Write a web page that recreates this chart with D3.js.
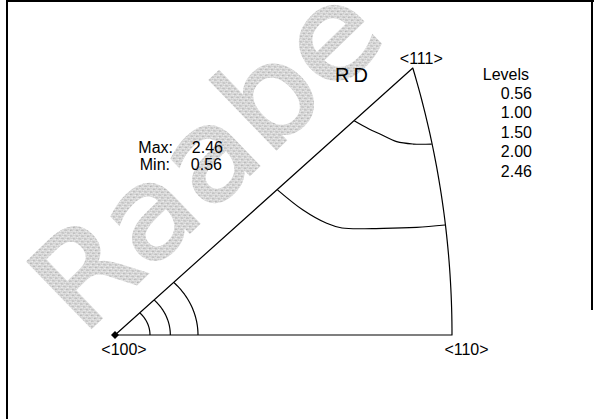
<!DOCTYPE html>
<html>
<head>
<meta charset="utf-8">
<script src="https://cdn.jsdelivr.net/npm/d3@7"></script>
<style>
  html, body { margin: 0; padding: 0; background: #fff; }
  svg { display: block; }
</style>
</head>
<body>
<svg id="chart" width="594" height="419"></svg>
<script>
// Inverse pole figure (stereographic standard triangle) with density contours.
// Coordinates are stereographic projection values: <100> at the origin,
// <110> at tan(22.5°), <111> at (tan(27.37°)·cos45°, tan(27.37°)·sin45°).
const poleLabels = ["<100>", "<110>", "<111>"];
const polePositions = [[0, 0], [0.41421, 0], [0.36603, 0.36603]];

const levelLabels = ["0.56", "1.00", "1.50", "2.00", "2.46"];
const maxValue = "2.46";
const minValue = "0.56";
const directionLabel = "RD";

// Closed contours around <100>, given as radius in projection units
const arcRadii100 = [0.043, 0.068, 0.102];

// Contours running from the <100>-<111> edge to the <110>-<111> arc
const contourUpper = [
  [0.2940, 0.2937], [0.3122, 0.2824], [0.3257, 0.2755], [0.3462, 0.2650],
  [0.3666, 0.2618], [0.3893, 0.2618]
];
const contourLower = [
  [0.1997, 0.1990], [0.2311, 0.1713], [0.2602, 0.1531], [0.2790, 0.1467],
  [0.3298, 0.1463], [0.3708, 0.1476], [0.4056, 0.1508]
];

const svg = d3.select("#chart");
const W = 594, H = 419;

// Scales: projection units -> pixels
const x = d3.scaleLinear().domain([0, 0.41421]).range([115, 452]);
const y = d3.scaleLinear().domain([0, 0.36603]).range([335, 68]);

// Stipple fill for the watermark
const defs = svg.append("defs");
const pat = defs.append("pattern")
  .attr("id", "stipple").attr("patternUnits", "userSpaceOnUse")
  .attr("width", 4).attr("height", 4);
pat.append("rect").attr("width", 4).attr("height", 4).attr("fill", "#d8d8d8");
[[0, 0, "#b8b8b8"], [2, 1, "#c6c6c6"], [1, 2, "#eeeeee"], [3, 3, "#b0b0b0"], [3, 1, "#ebebeb"], [0, 3, "#c8c8c8"], [2, 3, "#f0f0f0"]]
  .forEach(([px, py, c]) => pat.append("rect").attr("x", px).attr("y", py)
    .attr("width", 1).attr("height", 1).attr("fill", c));

svg.append("rect").attr("width", W).attr("height", H).attr("fill", "#fff");

// Watermark
svg.append("g")
  .attr("transform", "translate(236,188) rotate(-44)")
  .append("text")
  .attr("text-anchor", "middle")
  .attr("font-family", "DejaVu Sans")
  .attr("font-size", 126)
  .attr("textLength", 428)
  .attr("lengthAdjust", "spacingAndGlyphs")
  .attr("fill", "url(#stipple)")
  .attr("stroke", "url(#stipple)")
  .attr("stroke-width", 2.5)
  .text("Raabe");

// Frame
const frame = svg.append("g").attr("fill", "#000");
frame.append("rect").attr("x", 6).attr("y", 0).attr("width", 2).attr("height", H);
frame.append("rect").attr("x", 6).attr("y", 0).attr("width", W - 6).attr("height", 2);
frame.append("rect").attr("x", 591).attr("y", 0).attr("width", 2).attr("height", 310);

const lineLinear = d3.line().x(d => x(d[0])).y(d => y(d[1]));
const lineSmooth = d3.line().x(d => x(d[0])).y(d => y(d[1])).curve(d3.curveCatmullRom.alpha(0.5));

// Triangle boundary: straight edges plus the great-circle arc <110>-<111>
// (a circle of radius sqrt(2) centred at (-1, 0) in projection units)
const a111 = Math.atan2(polePositions[2][1], polePositions[2][0] + 1);
const arcPts = d3.range(0, 41).map(i => {
  const t = a111 * i / 40;
  return [-1 + Math.SQRT2 * Math.cos(t), Math.SQRT2 * Math.sin(t)];
});
const boundary = [polePositions[0], ...arcPts, polePositions[0]];

const g = svg.append("g")
  .attr("fill", "none").attr("stroke", "#000").attr("stroke-width", 1.2)
  .attr("stroke-linejoin", "round");

g.append("path").attr("d", lineLinear(boundary));

arcRadii100.forEach(r => {
  const pts = d3.range(0, 31).map(i => {
    const t = (Math.PI / 4) * i / 30;
    return [r * Math.cos(t), r * Math.sin(t)];
  });
  g.append("path").attr("d", lineLinear(pts));
});

[contourUpper, contourLower].forEach(c => g.append("path").attr("d", lineSmooth(c)));

// <100> marker
svg.append("path")
  .attr("transform", `translate(${x(polePositions[0][0])},${y(polePositions[0][1])})`)
  .attr("d", "M0,-4L4,0L0,4L-4,0Z").attr("fill", "#000");

// Text
const font = "Liberation Sans, Arial, sans-serif";
const labelOffsets = [[9, 20], [14.5, 20], [8.5, -4]];
poleLabels.forEach((lab, i) => {
  svg.append("text")
    .attr("x", x(polePositions[i][0]) + labelOffsets[i][0])
    .attr("y", y(polePositions[i][1]) + labelOffsets[i][1])
    .attr("text-anchor", "middle").attr("font-family", font).attr("font-size", 16)
    .attr("fill", "#000").text(lab);
});

svg.append("text").attr("x", 335).attr("y", 82)
  .attr("font-family", font).attr("font-size", 20).attr("letter-spacing", 4)
  .attr("fill", "#000").text(directionLabel);

svg.append("text").attr("x", 529).attr("y", 80).attr("text-anchor", "end")
  .attr("font-family", font).attr("font-size", 16).attr("fill", "#000").text("Levels");
levelLabels.forEach((lv, i) => {
  svg.append("text").attr("x", 532).attr("y", 99 + i * 19.4).attr("text-anchor", "end")
    .attr("font-family", font).attr("font-size", 16).attr("fill", "#000").text(lv);
});

svg.append("text").attr("x", 173).attr("y", 153).attr("text-anchor", "end")
  .attr("font-family", font).attr("font-size", 16).attr("fill", "#000").text("Max:");
svg.append("text").attr("x", 170).attr("y", 170).attr("text-anchor", "end")
  .attr("font-family", font).attr("font-size", 16).attr("fill", "#000").text("Min:");
svg.append("text").attr("x", 223).attr("y", 153).attr("text-anchor", "end")
  .attr("font-family", font).attr("font-size", 16).attr("fill", "#000").text(maxValue);
svg.append("text").attr("x", 222).attr("y", 170).attr("text-anchor", "end")
  .attr("font-family", font).attr("font-size", 16).attr("fill", "#000").text(minValue);
</script>
</body>
</html>
